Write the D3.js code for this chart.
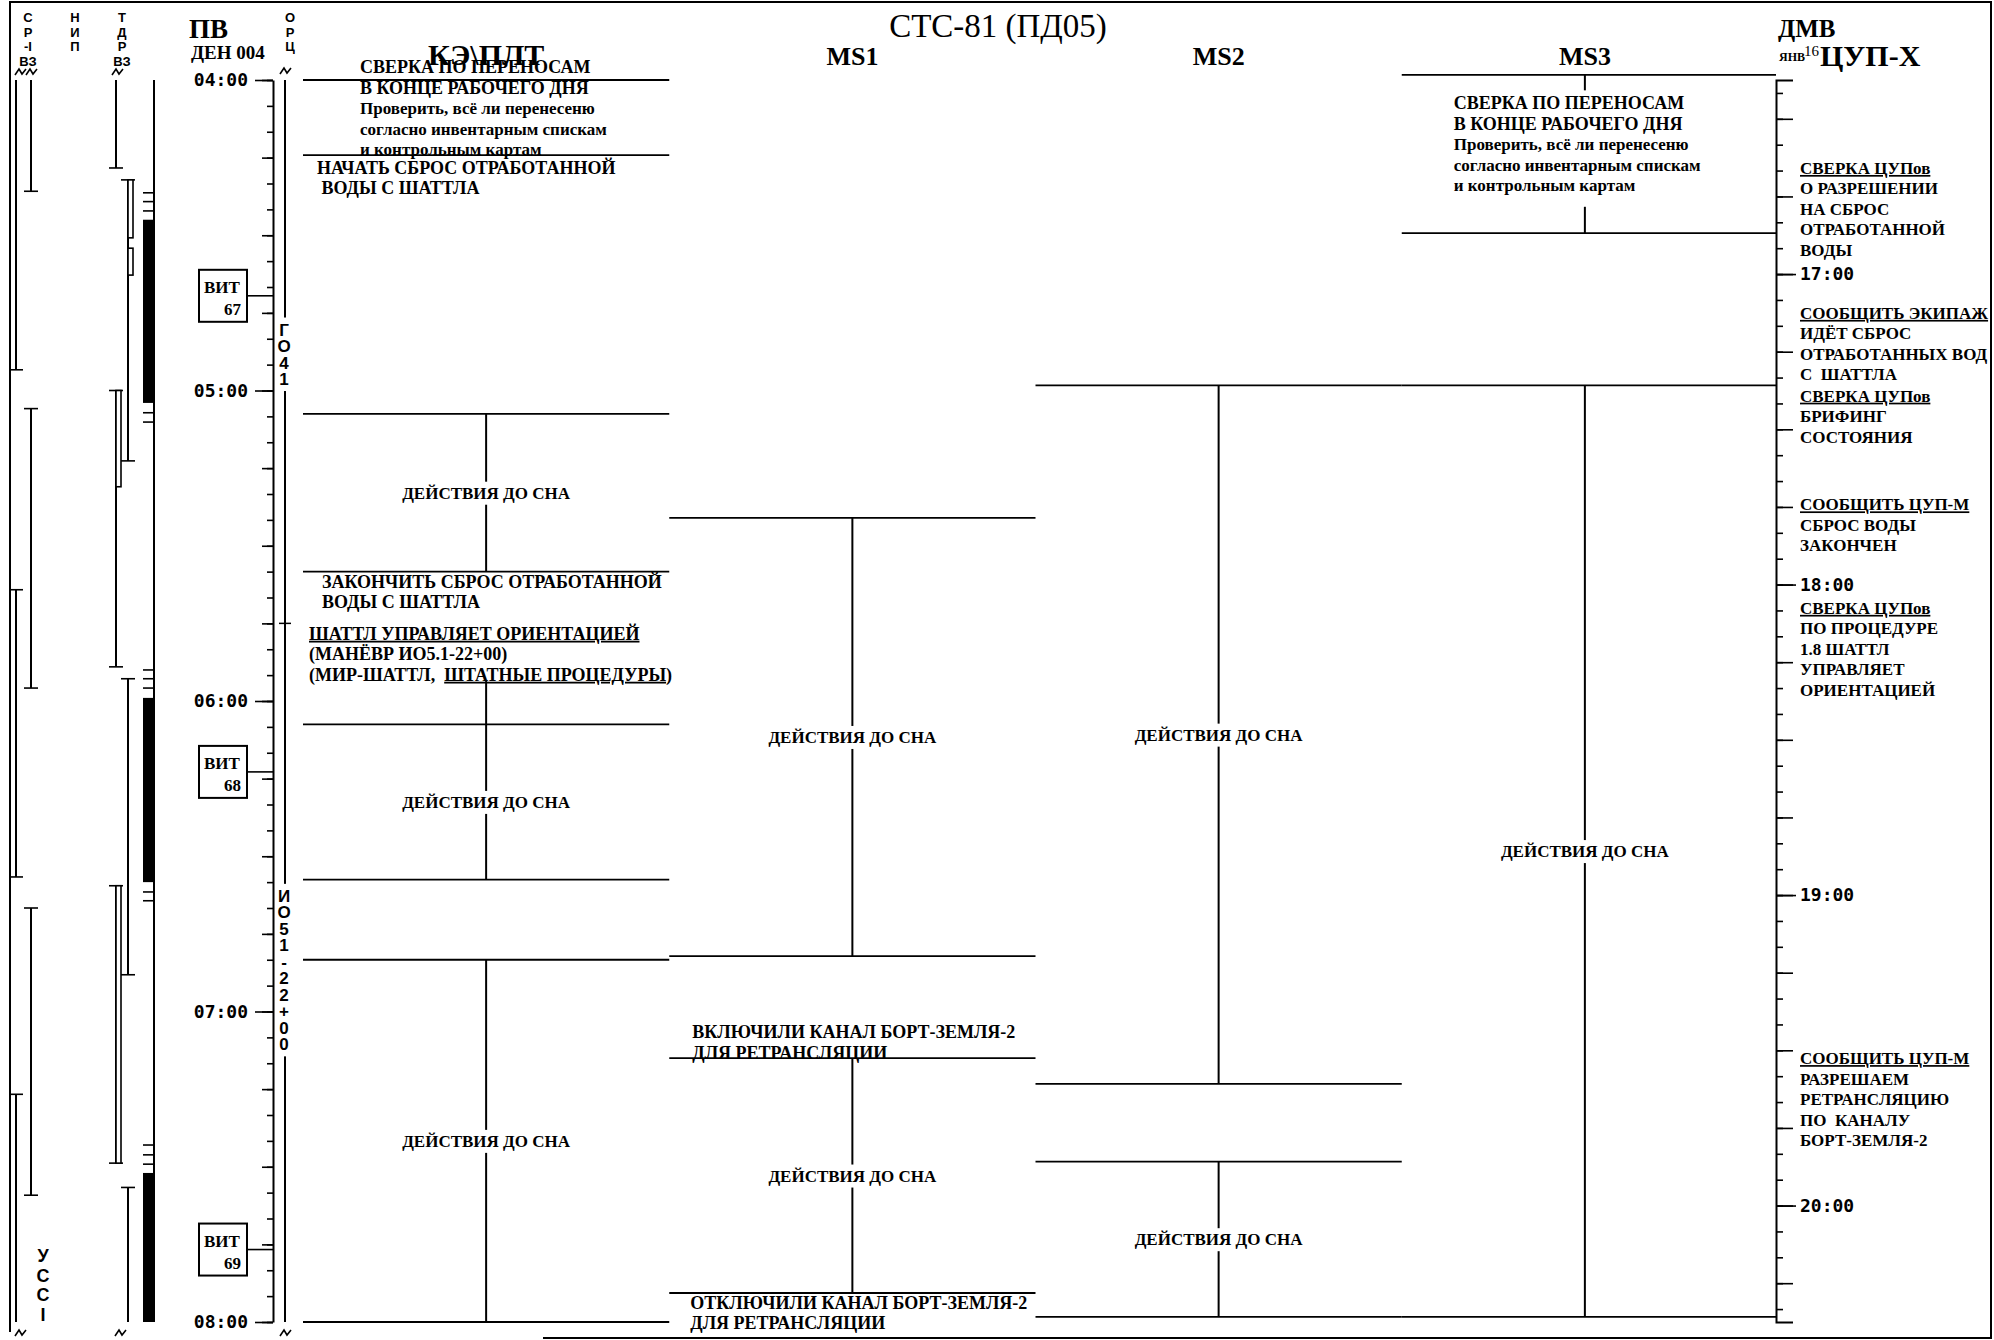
<!DOCTYPE html>
<html><head><meta charset="utf-8">
<script src="https://cdn.jsdelivr.net/npm/d3@7"></script>
<style>
html,body{margin:0;padding:0;background:#fff;}
svg{display:block;}
text{white-space:pre;}
</style></head><body>
<svg id="c" width="1994" height="1340"></svg>
<script>
// ================= DATA =================
const title = "СТС-81 (ПД05)";
const columns = ["КЭ\\ПЛТ", "MS1", "MS2", "MS3"];
const hourTicks = ["04:00", "05:00", "06:00", "07:00", "08:00"];
const dmvHourTicks = ["17:00", "18:00", "19:00", "20:00"];
const dmvOffset = "12:22.5";            // ДМВ − ПВ

// horizontal event lines: [column, time ПВ]
const eventLines = [
  ["КЭ\\ПЛТ", "04:00"], ["КЭ\\ПЛТ", "04:14.5"], ["КЭ\\ПЛТ", "05:04.5"], ["КЭ\\ПЛТ", "05:35"],
  ["КЭ\\ПЛТ", "06:04.5"], ["КЭ\\ПЛТ", "06:34.5"], ["КЭ\\ПЛТ", "06:50"], ["КЭ\\ПЛТ", "08:00"],
  ["MS1", "05:24.6"], ["MS1", "06:49.3"], ["MS1", "07:09"], ["MS1", "07:54.4"],
  ["MS2", "04:59"], ["MS2", "07:14"], ["MS2", "07:29"], ["MS2", "07:59"],
  ["MS3", "03:59"], ["MS3", "04:29.6"], ["MS3", "04:59"], ["MS3", "07:59"]
];

// vertical activity spans: [column, from, to, label]
const blocks = [
  ["КЭ\\ПЛТ", "05:04.5", "05:35", "ДЕЙСТВИЯ ДО СНА"],
  ["КЭ\\ПЛТ", "05:56", "06:04.5", ""],
  ["КЭ\\ПЛТ", "06:04.5", "06:34.5", "ДЕЙСТВИЯ ДО СНА"],
  ["КЭ\\ПЛТ", "06:50", "08:00", "ДЕЙСТВИЯ ДО СНА"],
  ["MS1", "05:24.6", "06:49.3", "ДЕЙСТВИЯ ДО СНА"],
  ["MS1", "07:09", "07:54.4", "ДЕЙСТВИЯ ДО СНА"],
  ["MS2", "04:59", "07:14", "ДЕЙСТВИЯ ДО СНА"],
  ["MS2", "07:29", "07:59", "ДЕЙСТВИЯ ДО СНА"],
  ["MS3", "03:59", "04:02", ""],
  ["MS3", "04:24.5", "04:29.6", ""],
  ["MS3", "04:59", "07:59", "ДЕЙСТВИЯ ДО СНА"]
];

// text notes in crew columns: [column, time of first line, lines]  (_..._ = underlined)
const notes = [
  ["КЭ\\ПЛТ", "03:57.5", ["СВЕРКА ПО ПЕРЕНОСАМ", "В КОНЦЕ РАБОЧЕГО ДНЯ", "Проверить, всё ли перенесеню", "согласно инвентарным спискам", "и контрольным картам"]],
  ["КЭ\\ПЛТ", "04:17", ["НАЧАТЬ СБРОС ОТРАБОТАННОЙ", " ВОДЫ С ШАТТЛА"]],
  ["КЭ\\ПЛТ", "05:37", ["ЗАКОНЧИТЬ СБРОС ОТРАБОТАННОЙ", "ВОДЫ С ШАТТЛА"]],
  ["КЭ\\ПЛТ", "05:47", ["_ШАТТЛ УПРАВЛЯЕТ ОРИЕНТАЦИЕЙ_", "(МАНЁВР ИО5.1-22+00)", "(МИР-ШАТТЛ,  _ШТАТНЫЕ ПРОЦЕДУРЫ_)"]],
  ["MS1", "07:04", ["ВКЛЮЧИЛИ КАНАЛ БОРТ-ЗЕМЛЯ-2", "ДЛЯ РЕТРАНСЛЯЦИИ"]],
  ["MS1", "07:56.3", ["ОТКЛЮЧИЛИ КАНАЛ БОРТ-ЗЕМЛЯ-2", "ДЛЯ РЕТРАНСЛЯЦИИ"]],
  ["MS3", "04:04.5", ["СВЕРКА ПО ПЕРЕНОСАМ", "В КОНЦЕ РАБОЧЕГО ДНЯ", "Проверить, всё ли перенесеню", "согласно инвентарным спискам", "и контрольным картам"]]
];

// ЦУП-Х notes: [time ДМВ of first line, lines]
const cupNotes = [
  ["16:39.5", ["СВЕРКА ЦУПов", "О РАЗРЕШЕНИИ", "НА СБРОС", "ОТРАБОТАННОЙ", "ВОДЫ"]],
  ["17:07.5", ["СООБЩИТЬ ЭКИПАЖ", "ИДЁТ СБРОС", "ОТРАБОТАННЫХ ВОД", "С  ШАТТЛА"]],
  ["17:23.5", ["СВЕРКА ЦУПов", "БРИФИНГ", "СОСТОЯНИЯ"]],
  ["17:44.5", ["СООБЩИТЬ ЦУП-М", "СБРОС ВОДЫ", "ЗАКОНЧЕН"]],
  ["18:04.5", ["СВЕРКА ЦУПов", "ПО ПРОЦЕДУРЕ", "1.8 ШАТТЛ", "УПРАВЛЯЕТ", "ОРИЕНТАЦИЕЙ"]],
  ["19:31.5", ["СООБЩИТЬ ЦУП-М", "РАЗРЕШАЕМ", "РЕТРАНСЛЯЦИЮ", "ПО  КАНАЛУ", "БОРТ-ЗЕМЛЯ-2"]]
];

// orbit numbers: [number, time]
const vitki = [["67", "04:41.7"], ["68", "06:13.7"], ["69", "07:46"]];

// ОРЦ column
const orcLabels = [["ГО41", "04:53"], ["ИО51-22+00", "06:52"]];
const orcMarks = ["05:45"];

// left strip tracks: [lane, from, to, caps]
const tracks = [
  ["sr1", "04:00", "04:56", "e"], ["sr2", "04:00", "04:21.5", "e"],
  ["sr2", "05:03.5", "05:57.5", "se"], ["sr1", "05:38.5", "06:34", "se"],
  ["sr2", "06:40", "07:35.5", "se"], ["sr1", "07:16", "08:00", "s"],
  ["tdr1", "04:00", "04:17", "e"], ["tdr2", "04:19.3", "05:13.6", "se"],
  ["tdr1", "05:00", "05:53.4", "se"], ["tdr2", "05:55.7", "06:52.9", "se"],
  ["tdr1", "06:35.7", "07:29.3", "se"], ["tdr2", "07:34", "08:00", "s"]
];
const doubleBands = [["tdr2", "04:19.3", "04:30.5"], ["tdr2", "04:32.5", "04:37.7"], ["tdr1", "05:00", "05:18.6"], ["tdr1", "06:35.7", "07:29.3"]];
const shadows = [["04:27", "05:02.4"], ["05:59.4", "06:35"], ["07:31.2", "08:00"]];
const shadowTicks = ["04:21.8", "04:23.5", "04:25.3", "05:04.3", "05:06.1", "05:54", "05:55.7", "05:57.5",
  "06:36.9", "06:38.6", "07:25.8", "07:27.7", "07:29.5"];
const stripHeaders = [["С", "Р", "-I", "ВЗ"], ["Н", "И", "П"], ["Т", "Д", "Р", "ВЗ"]];
const usscLetters = ["У", "С", "С", "I"];

// ================= LAYOUT / DRAW =================
const SERIF = "'Liberation Serif','Times New Roman',serif";
const SANS = "'Liberation Sans',Arial,sans-serif";
const MONO = "'DejaVu Sans Mono','Liberation Mono',monospace";
const T = s => { const [h, m] = s.split(":"); return +h * 60 + parseFloat(m); };
const fmt = m => d3.format("02")(Math.floor(m / 60) % 24) + ":" + d3.format("02")(Math.round(m % 60));

const svg = d3.select("#c");
const y = d3.scaleLinear().domain([T("04:00"), T("08:00")]).range([80, 1322]);
const dOff = T(dmvOffset);
const yR = d3.scaleLinear().domain([T("04:00") + dOff, T("08:00") + dOff]).range([80, 1322]);
const x = d3.scaleBand().domain(columns).range([303, 1768]);
const AXL = 273, AXR = 1776, LH = 20.5;
const laneX = d3.scaleOrdinal().domain(["sr1", "sr2", "tdr1", "tdr2"]).range([16, 31, 116, 128]);

function txt(parent, str, px, py, o = {}) {
  const t = parent.append("text").attr("x", px).attr("y", py)
    .attr("font-family", o.family || SERIF).attr("font-size", o.size || 18)
    .attr("font-weight", o.weight || "bold").attr("text-anchor", o.anchor || "start")
    .attr("fill", "#000");
  str.split("_").forEach((p, i) => {
    if (!p) return;
    const ts = t.append("tspan").text(p);
    if (i % 2) ts.style("text-decoration", "underline");
  });
  return t;
}
const ln = (x1, y1, x2, y2, w = 2) => svg.append("line").attr("x1", x1).attr("y1", y1).attr("x2", x2).attr("y2", y2)
  .attr("stroke", "#000").attr("stroke-width", w);

// frame
svg.append("path").attr("d", "M10,1332 V2 H1991 V1338 H543").attr("fill", "none").attr("stroke", "#000").attr("stroke-width", 2);

// title & headers
txt(svg, title, 998, 37, { size: 33, weight: "normal", anchor: "middle" });
columns.forEach(c => txt(svg, c, x(c) + x.bandwidth() / 2, 65, { size: c === columns[0] ? 30 : 26, anchor: "middle" }));
txt(svg, "ПВ", 189, 38, { size: 27 });
txt(svg, "ДЕН 004", 191, 59, { size: 19 });
["О", "Р", "Ц"].forEach((l, i) => txt(svg, l, 290, 22 + i * 14.5, { family: SANS, size: 13, anchor: "middle" }));
txt(svg, "ДМВ", 1778, 37, { size: 25 });
txt(svg, "ЯНВ", 1779, 61, { size: 12 });
txt(svg, "16", 1804, 56, { size: 15, weight: "normal" });
txt(svg, "ЦУП-Х", 1820, 66, { size: 30 });

// ---- left ПВ axis
const axL = svg.append("g").attr("transform", `translate(${AXL},0)`);
axL.call(d3.axisLeft(y).tickValues(d3.range(T("04:00"), T("08:00") + 1, 5)).tickSize(6).tickFormat("").tickSizeOuter(0));
axL.append("g").call(d3.axisLeft(y).tickValues(d3.range(T("04:00"), T("08:00") + 1, 15)).tickSize(11).tickFormat("").tickSizeOuter(0))
  .select(".domain").remove();
axL.append("g").call(d3.axisLeft(y).tickValues(hourTicks.map(T)).tickSize(18).tickPadding(7).tickFormat(fmt).tickSizeOuter(0))
  .select(".domain").remove();
axL.selectAll("text").attr("font-family", MONO).attr("font-size", 18).attr("font-weight", "bold");
axL.selectAll(".tick line").attr("stroke-width", 1.6);
axL.select(".domain").attr("stroke-width", 2);

// ---- right ДМВ axis
const axR = svg.append("g").attr("transform", `translate(${AXR},0)`);
const r0 = T("04:00") + dOff, r1 = T("08:00") + dOff;
axR.call(d3.axisRight(yR).tickValues(d3.range(Math.ceil(r0 / 5) * 5, r1, 5)).tickSize(7).tickFormat("").tickSizeOuter(17));
axR.append("g").call(d3.axisRight(yR).tickValues(d3.range(Math.ceil(r0 / 15) * 15, r1, 15)).tickSize(17).tickFormat("").tickSizeOuter(0))
  .select(".domain").remove();
axR.append("g").call(d3.axisRight(yR).tickValues(dmvHourTicks.map(T)).tickSize(20).tickPadding(4).tickFormat(fmt).tickSizeOuter(0))
  .select(".domain").remove();
axR.selectAll("text").attr("font-family", MONO).attr("font-size", 18).attr("font-weight", "bold");
axR.selectAll(".tick line").attr("stroke-width", 1.6);
axR.select(".domain").attr("stroke-width", 2);

// ---- ОРЦ column
const ORC = 285;
ln(ORC, y(T("04:00")), ORC, y(T("08:00")), 2);
orcMarks.forEach(t => ln(ORC - 6, y(T(t)), ORC + 6, y(T(t)), 1.5));
orcLabels.forEach(([s, t]) => {
  const chars = Array.from(s), step = 16.5, y0 = y(T(t)) - (chars.length - 1) * step / 2;
  svg.append("rect").attr("x", ORC - 8).attr("width", 16).attr("y", y0 - 12).attr("height", (chars.length - 1) * step + 24).attr("fill", "#fff");
  chars.forEach((ch, i) => txt(svg, ch, ORC - 1, y0 + i * step + 6, { family: SANS, size: 17, anchor: "middle" }));
});

// ---- ВИТ boxes
vitki.forEach(([n, t]) => {
  const yc = y(T(t));
  svg.append("rect").attr("x", 199).attr("y", yc - 26).attr("width", 48).attr("height", 52)
    .attr("fill", "#fff").attr("stroke", "#000").attr("stroke-width", 2);
  ln(247, yc, AXL, yc, 1.6);
  txt(svg, "ВИТ", 204, yc - 3, { size: 17 });
  txt(svg, n, 241, yc + 19, { size: 17, anchor: "end" });
});

// ---- left strip
stripHeaders.forEach((col, ci) => col.forEach((l, i) =>
  txt(svg, l, [28, 75, 122][ci], 22 + i * 14.5, { family: SANS, size: 13, anchor: "middle" })));
usscLetters.forEach((l, i) => txt(svg, l, 43, 1262 + i * 19.5, { family: SANS, size: 18, anchor: "middle" }));
tracks.forEach(([lane, a, b, caps]) => {
  const lx = laneX(lane), y1 = y(T(a)), y2 = y(T(b));
  ln(lx, y1, lx, y2, 2);
  if (caps.includes("s")) ln(lx - 7, y1, lx + 7, y1, 1.6);
  if (caps.includes("e")) ln(lx - 7, y2, lx + 7, y2, 1.6);
});
doubleBands.forEach(([lane, a, b]) => {
  svg.append("rect").attr("x", laneX(lane)).attr("y", y(T(a))).attr("width", 5).attr("height", y(T(b)) - y(T(a)))
    .attr("fill", "#fff").attr("stroke", "#000").attr("stroke-width", 1.6);
});
ln(154, y(T("04:00")), 154, y(T("08:00")), 2);
shadows.forEach(([a, b]) => svg.append("rect").attr("x", 143).attr("y", y(T(a))).attr("width", 11)
  .attr("height", y(T(b)) - y(T(a))).attr("fill", "#000"));
shadowTicks.forEach(t => ln(143, y(T(t)), 154, y(T(t)), 1.6));
// break marks
function brk(cx, cy) {
  svg.append("path").attr("d", `M${cx - 5},${cy + 3} L${cx - 1},${cy - 3} L${cx + 2},${cy + 2} L${cx + 6},${cy - 3}`)
    .attr("fill", "none").attr("stroke", "#000").attr("stroke-width", 1.6);
}
[[20, 72], [31, 72], [117, 72], [285, 71], [20, 1333], [120, 1333], [285, 1333]].forEach(([a, b]) => brk(a, b));

// ---- crew columns: event lines
eventLines.forEach(([c, t]) => {
  const x0 = x(c), x1 = c === columns[columns.length - 1] ? AXR : x0 + x.bandwidth();
  ln(x0, y(T(t)), x1, y(T(t)), 1.8);
});
// vertical spans + labels
blocks.forEach(([c, a, b, label]) => {
  const cx = x(c) + x.bandwidth() / 2, y1 = y(T(a)), y2 = y(T(b));
  ln(cx, y1, cx, y2, 2);
  if (label) {
    const g = svg.append("g");
    const t = txt(g, label, cx, (y1 + y2) / 2 + 6, { size: 17, anchor: "middle" });
    const bb = t.node().getBBox();
    g.insert("rect", "text").attr("x", bb.x - 3).attr("y", bb.y - 2).attr("width", bb.width + 6).attr("height", bb.height + 4).attr("fill", "#fff");
  }
});
// notes
const noteIndent = [57, 14, 19, 6, 23, 21, 52];
const isSmall = s => (s.match(/[а-яё]/g) || []).length > s.length / 2;
notes.forEach(([c, t, lines], k) => {
  const y0 = y(T(t));
  lines.forEach((s, i) => txt(svg, s, x(c) + noteIndent[k], y0 + i * LH + 6, { size: isSmall(s) ? 17 : 18 }));
});
// ЦУП-Х notes
svg.append("clipPath").attr("id", "clipR").append("rect").attr("x", 1778).attr("y", 0).attr("width", 212).attr("height", 1340);
const gR = svg.append("g").attr("clip-path", "url(#clipR)");
cupNotes.forEach(([t, lines]) => {
  const y0 = yR(T(t));
  lines.forEach((s, i) => txt(gR, i === 0 ? "_" + s + "_" : s, 1800, y0 + i * LH + 6, { size: 17 }));
});
</script>
</body></html>
